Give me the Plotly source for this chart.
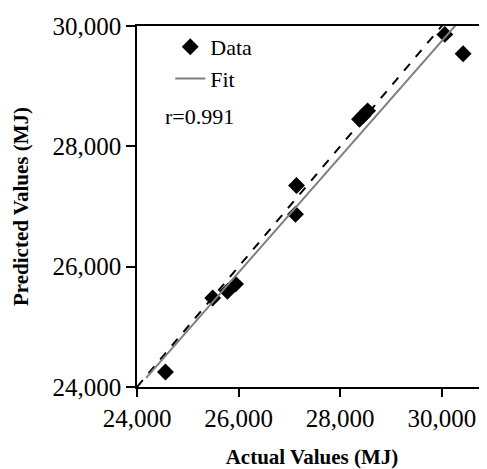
import numpy as np
import plotly.graph_objects as go

# Data
actual = [24560, 25490, 25780, 25940, 27120, 27140, 28380, 28450, 28540, 30060, 30420]
predicted = [24250, 25480, 25590, 25710, 26870, 27350, 28450, 28510, 28590, 29860, 29540]
x_ticks = [24000, 26000, 28000, 30000]
y_ticks = [24000, 26000, 28000, 30000]
r_text = "r=0.991"
fit_start = 24180

x_range = [24000, 30890]
y_range = [24000, 30000]

slope, intercept = np.polyfit(actual, predicted, 1)
fit_x = [fit_start, x_range[1]]
fit_y = [slope * v + intercept for v in fit_x]
ideal = [x_range[0], x_range[1]]

FONT = "Liberation Serif, Times New Roman, serif"

fig = go.Figure()
fig.add_trace(go.Scatter(
    x=ideal, y=ideal, mode="lines", showlegend=False,
    line=dict(color="black", width=2, dash="dash"), hoverinfo="skip"))
fig.add_trace(go.Scatter(
    x=actual, y=predicted, mode="markers", name="Data", legendgroup="a",
    marker=dict(symbol="diamond", size=13, color="black")))
fig.add_trace(go.Scatter(
    x=fit_x, y=fit_y, mode="lines", name="Fit", legendgroup="b",
    line=dict(color="#7f7f7f", width=2)))

fig.add_annotation(
    text=r_text, xref="paper", yref="paper", x=0.073, y=0.748,
    xanchor="left", yanchor="middle", showarrow=False,
    font=dict(family=FONT, size=22, color="black"))

# page body has an 8px margin: figure is shifted by 8px right and down
fig.update_layout(
    width=479, height=461,
    margin=dict(l=129, r=0, t=18, b=82),
    paper_bgcolor="white", plot_bgcolor="white",
    font=dict(family=FONT, color="black"),
    legend=dict(x=0.095, y=1.0, xanchor="left", yanchor="top",
                bgcolor="rgba(0,0,0,0)", font=dict(family=FONT, size=22),
                tracegroupgap=0, itemwidth=30),
    xaxis=dict(range=x_range, tickvals=x_ticks, tickformat=",d",
               showgrid=False, zeroline=False, showline=True, linecolor="black",
               linewidth=1.5, mirror=True, ticks="outside", ticklen=8,
               tickcolor="black", tickwidth=1.5,
               tickfont=dict(family=FONT, size=25, color="black"),
               title=dict(text="<b>Actual Values (MJ)</b>", standoff=20,
                          font=dict(family=FONT, size=21, color="black"))),
    yaxis=dict(range=y_range, tickvals=y_ticks, tickformat=",d",
               showgrid=False, zeroline=False, showline=True, linecolor="black",
               linewidth=1.5, ticks="outside", ticklen=9,
               tickcolor="black", tickwidth=1.5,
               tickfont=dict(family=FONT, size=25, color="black"),
               title=dict(text="<b>Predicted Values (MJ)</b>", standoff=18,
                          font=dict(family=FONT, size=21, color="black"))),
)

fig.write_html("out.html")
